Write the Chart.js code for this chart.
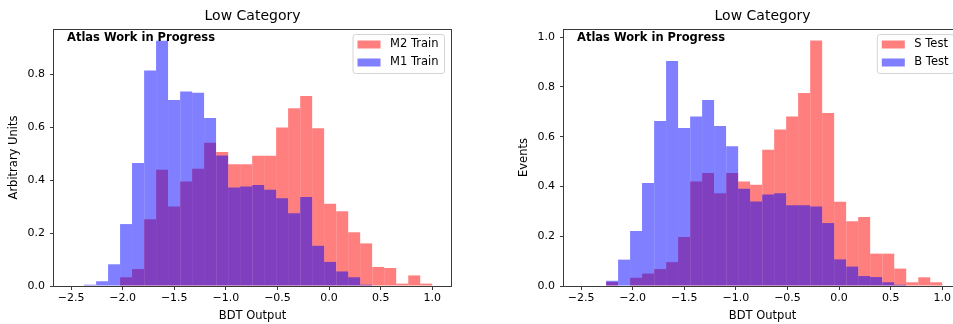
<!DOCTYPE html>
<html>
<head>
<meta charset="utf-8">
<script src="https://cdn.jsdelivr.net/npm/chart.js@4/dist/chart.umd.min.js"></script>
<style>
  html, body { margin: 0; padding: 0; overflow: hidden; background: #fff; width: 953px; height: 324px; }
  canvas { position: absolute; top: 0; }
  #trainChart { left: 0; }
  #testChart { left: 510px; }
</style>
</head>
<body>
<canvas id="trainChart" width="480" height="324"></canvas>
<canvas id="testChart" width="480" height="324"></canvas>
<script>
// bin centres of the BDT output histograms (30 bins from -2.49 to 1.0)
const binCenters = [-2.432, -2.316, -2.199, -2.083, -1.967, -1.851, -1.734, -1.618, -1.502, -1.385,
    -1.269, -1.153, -1.036, -0.920, -0.804, -0.687, -0.571, -0.455, -0.339, -0.222,
    -0.106, 0.010, 0.127, 0.243, 0.359, 0.476, 0.592, 0.708, 0.825, 0.941];

// left panel: training samples
const m2Train = [0, 0, 0, 0, 0.033, 0.064, 0.252, 0.439, 0.300, 0.395,
    0.443, 0.541, 0.506, 0.460, 0.460, 0.492, 0.492, 0.599, 0.672, 0.718,
    0.596, 0.311, 0.282, 0.203, 0.161, 0.072, 0.068, 0.009, 0.040, 0.009];
const m1Train = [0, 0.005, 0.018, 0.082, 0.234, 0.465, 0.814, 0.927, 0.703, 0.735,
    0.730, 0.635, 0.493, 0.372, 0.376, 0.382, 0.364, 0.332, 0.275, 0.336,
    0.152, 0.091, 0.055, 0.033, 0.005, 0, 0, 0, 0, 0];

// right panel: test samples
const sTest = [0, 0, 0.016, 0, 0.033, 0.050, 0.068, 0.096, 0.197, 0.420,
    0.454, 0.373, 0.454, 0.420, 0.407, 0.548, 0.629, 0.681, 0.776, 0.987,
    0.695, 0.339, 0.260, 0.277, 0.130, 0.130, 0.070, 0.015, 0.035, 0.015];
const bTest = [0, 0, 0.021, 0.106, 0.221, 0.414, 0.663, 0.904, 0.635, 0.681,
    0.748, 0.643, 0.562, 0.391, 0.340, 0.368, 0.373, 0.325, 0.325, 0.320,
    0.253, 0.107, 0.078, 0.040, 0.036, 0.015, 0.005, 0, 0, 0];

const xTicks = [-2.5, -2.0, -1.5, -1.0, -0.5, 0.0, 0.5, 1.0];
const yTicksTrain = [0.0, 0.2, 0.4, 0.6, 0.8];
const yTicksTest = [0.0, 0.2, 0.4, 0.6, 0.8, 1.0];

const RED = 'rgba(255, 0, 0, 0.5)';
const BLUE = 'rgba(0, 0, 255, 0.5)';
const FONT = 'DejaVu Sans';

// frame, legend box and the "Atlas" label, drawn like matplotlib does it
const decorations = {
    id: 'decorations',
    afterDatasetsDraw(chart) {
        const ctx = chart.ctx;
        const a = chart.chartArea;
        ctx.save();
        ctx.strokeStyle = '#3a3a3a';
        ctx.lineWidth = 1;
        ctx.strokeRect(Math.round(a.left) - 0.5, Math.round(a.top) + 0.5,
            Math.round(a.right - a.left) + 1, Math.round(a.bottom - a.top));

        ctx.fillStyle = '#000';
        ctx.font = 'bold 11.5px "' + FONT + '"';
        ctx.textBaseline = 'alphabetic';
        ctx.textAlign = 'left';
        ctx.fillText('Atlas Work in Progress', a.left + 13, a.top + 12);

        // legend
        ctx.font = '11.5px "' + FONT + '"';
        const sets = chart.data.datasets;
        const textW = Math.max(...sets.map(d => ctx.measureText(d.label).width));
        const w = 4.5 + 23 + 9.5 + textW + 6;
        const h = 39;
        const x0 = a.right - 6.5 - w;
        const y0 = a.top + 5.5;
        ctx.fillStyle = 'rgba(255,255,255,0.8)';
        ctx.strokeStyle = '#d5d5d5';
        ctx.beginPath();
        ctx.roundRect(x0, y0, w, h, 2.5);
        ctx.fill();
        ctx.stroke();
        sets.forEach((d, i) => {
            const cy = y0 + 10 + i * 18;
            ctx.fillStyle = d.backgroundColor;
            ctx.fillRect(x0 + 4.5, cy - 4, 23, 8);
            ctx.fillStyle = '#000';
            ctx.textBaseline = 'middle';
            ctx.fillText(d.label, x0 + 37, cy);
        });
        ctx.restore();
    }
};

function histChart(id, labels, redSet, blueSet, yTitle, yMax, yTicks) {
    const ctx = document.getElementById(id).getContext('2d');
    const fmt = v => (v < 0 ? '\u2212' : '') + Math.abs(v).toFixed(1);
    return new Chart(ctx, {
        type: 'bar',
        data: {
            labels: binCenters,
            datasets: [
                {
                    label: labels[0],
                    data: redSet,
                    backgroundColor: RED,
                    order: 1
                }, {
                    label: labels[1],
                    data: blueSet,
                    backgroundColor: BLUE,
                    order: 0
                }
            ]
        },
        options: {
            responsive: false,
            animation: false,
            layout: { padding: { left: 0, right: 29, top: 0, bottom: 0 } },
            datasets: {
                bar: {
                    grouped: false,
                    barPercentage: 1,
                    categoryPercentage: 1,
                    borderWidth: 0,
                    inflateAmount: 0
                }
            },
            plugins: {
                legend: { display: false },
                tooltip: { enabled: false },
                title: {
                    display: true,
                    text: 'Low Category',
                    fullSize: false,
                    color: '#000',
                    font: { family: FONT, size: 14, weight: 'normal', lineHeight: 1.2 },
                    padding: { top: 7.6, bottom: 4.6 }
                }
            },
            scales: {
                x: {
                    type: 'linear',
                    min: -2.665,
                    max: 1.181,
                    offset: false,
                    afterBuildTicks: s => { s.ticks = xTicks.map(v => ({ value: v })); },
                    afterFit: s => { s.height = 38; },
                    grid: { drawOnChartArea: false, drawTicks: true, tickLength: 4, color: '#3a3a3a', offset: false },
                    border: { display: false },
                    ticks: {
                        color: '#000',
                        padding: 2,
                        maxRotation: 0,
                        autoSkip: false,
                        font: { family: FONT, size: 11 },
                        callback: fmt
                    },
                    title: {
                        display: true,
                        text: 'BDT Output',
                        color: '#000',
                        font: { family: FONT, size: 11.5, lineHeight: 1.2 },
                        padding: { top: 0, bottom: 1 }
                    }
                },
                y: {
                    min: 0,
                    max: yMax,
                    afterBuildTicks: s => { s.ticks = yTicks.map(v => ({ value: v })); },
                    afterFit: s => { s.width = 54; },
                    grid: { drawOnChartArea: false, drawTicks: true, tickLength: 4, color: '#3a3a3a' },
                    border: { display: false },
                    ticks: {
                        color: '#000',
                        padding: 5,
                        font: { family: FONT, size: 11 },
                        callback: fmt
                    },
                    title: {
                        display: true,
                        text: yTitle,
                        color: '#000',
                        font: { family: FONT, size: 11.5, lineHeight: 1.2 },
                        padding: { top: 7, bottom: 0 }
                    }
                }
            }
        },
        plugins: [decorations]
    });
}

histChart('trainChart', ['M2 Train', 'M1 Train'], m2Train, m1Train, 'Arbitrary Units', 0.971, yTicksTrain);
histChart('testChart', ['S Test', 'B Test'], sTest, bTest, 'Events', 1.033, yTicksTest);
</script>
</body>
</html>
